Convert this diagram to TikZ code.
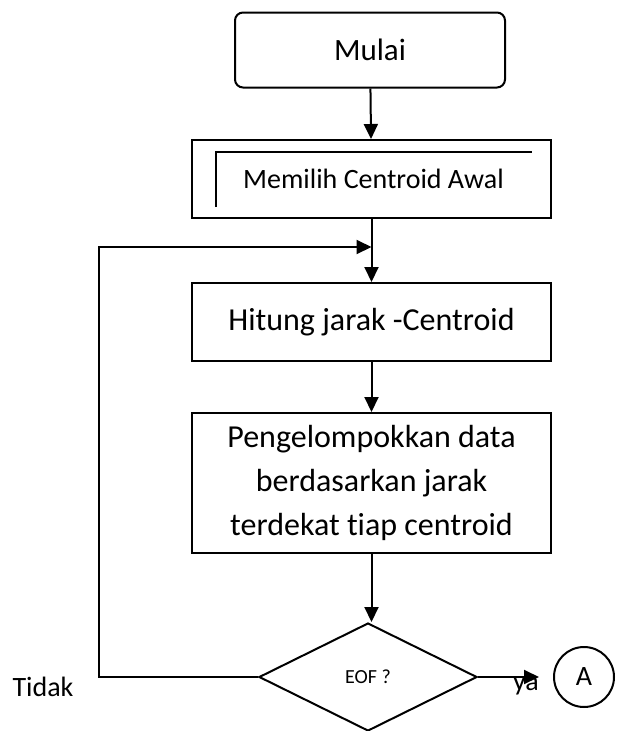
\documentclass[tikz,border=0pt]{standalone}
\usepackage{fontspec}
\setmainfont[Ligatures=NoCommon]{Carlito}
\usetikzlibrary{shapes.geometric,arrows.meta}

\begin{document}
\begin{tikzpicture}[x=1pt,y=-1pt,
  line width=2pt,
  arr/.style={-{Triangle[length=15pt,width=14pt]}},
  start node/.style={rectangle,rounded corners=8pt,draw,font=\fontsize{31}{36}\selectfont,minimum width=270pt,minimum height=75pt},
  proc node/.style={rectangle,draw,minimum width=359pt,font=\fontsize{32}{44}\selectfont,align=center},
  dec node/.style={diamond,draw,aspect=2,inner sep=0pt,minimum width=218pt,minimum height=108pt,font=\fontsize{20}{24}\selectfont},
  conn node/.style={circle,draw,minimum size=60pt,font=\fontsize{28}{30}\selectfont}]

  \useasboundingbox (0,0) rectangle (619,731);

  \node[start node] (mulai) at (370,50) {Mulai};
  \node[proc node,minimum height=78pt,font=\fontsize{28}{30}\selectfont] (awal) at (371.5,179) {\hspace*{4pt}Memilih Centroid Awal};
  \node[proc node,minimum height=78pt] (hitung) at (371.5,322) {Hitung jarak -Centroid};
  \node[proc node,minimum height=140pt] (kelompok) at (371.5,483) {Pengelompokkan data\\berdasarkan jarak\\terdekat tiap centroid};
  \node[dec node] (eof) at (368,677) {EOF ?};
  \node[conn node] (A) at (584,677) {A};
  \node[font=\fontsize{28}{30}\selectfont] (tidak) at (43,687) {Tidak};
  \node[font=\fontsize{28}{30}\selectfont] (ya) at (526,686) {ya};

  \coordinate (balik) at (99,247);
  \coordinate (gabung) at (371.5,247);
  \coordinate (keA) at (539,677);

  % garis dalam kotak awal
  \draw (216,207) -- (216,152) -- (532,152);

  \draw[arr] (mulai) -- (awal);
  \draw[arr] (awal) -- (hitung);
  \draw[arr] (hitung) -- (kelompok);
  \draw[arr] (kelompok.south) -- (kelompok.south |- eof.north);
  \draw[arr] (eof.west) -| (balik) -- (gabung);
  \draw[arr] (eof.east) -- (keA);
\end{tikzpicture}
\end{document}
